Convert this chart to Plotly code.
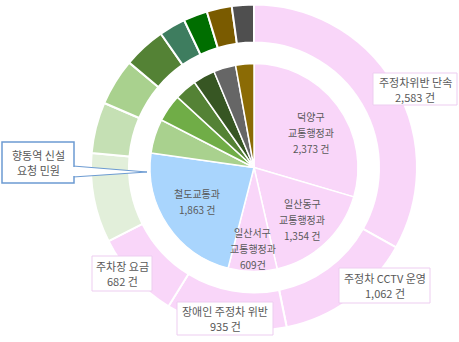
import math
import plotly.graph_objects as go

# ---- data ----
inner_labels = ["덕양구 교통행정과", "일산동구 교통행정과", "일산서구 교통행정과", "철도교통과",
                "기타1", "기타2", "기타3", "기타4", "기타5", "기타6"]
inner_values = [2373, 1354, 609, 1863, 428, 343, 278, 276, 276, 228]
inner_texts = [["덕양구", "교통행정과", "2,373 건"], ["일산동구", "교통행정과", "1,354 건"],
               ["일산서구", "교통행정과", "609건"], ["철도교통과", "1,863 건"],
               [], [], [], [], [], []]

outer_labels = ["주정차위반 단속", "주정차 CCTV 운영", "장애인 주정차 위반", "주차장 요금",
                "향동역 신설 요청 민원", "기타a", "기타b", "기타c", "기타d", "기타e", "기타f", "기타g"]
outer_values = [2583, 1062, 935, 682, 691, 395, 362, 327, 205, 185, 194, 170]
outer_texts = [["주정차위반 단속", "2,583 건"], ["주정차 CCTV 운영", "1,062 건"],
               ["장애인 주정차 위반", "935 건"], ["주차장 요금", "682 건"], ["향동역 신설", "요청 민원"]]

# ---- styles ----
PINK = "#F9D6F9"
inner_colors = [PINK, PINK, PINK, "#A9D5FD", "#A9D18E", "#70AD47", "#548235", "#375623", "#666666", "#8B6B05"]
outer_colors = [PINK, PINK, PINK, PINK, "#E2EFDA", "#C5E0B4", "#A9D18E", "#548235",
                "#3E7D5F", "#006E00", "#7A5B00", "#4F4F4F"]

W, H = 459, 342
CX, CY = 254, 167.5
R_OUT, R_HOLE, R_IN = 163, 125, 104
FONT = "Malgun Gothic, Noto Sans CJK KR, sans-serif"
TXT = "#595959"
BLUE = "#6C9BD2"

def px(x):
    return x / W

def py(y):
    return 1 - y / H

fig = go.Figure()
fig.add_trace(go.Pie(
    labels=outer_labels, values=outer_values, sort=False, direction="clockwise", rotation=0,
    hole=R_HOLE / R_OUT, textinfo="none", hoverinfo="label+value",
    marker=dict(colors=outer_colors, line=dict(color="white", width=2)),
    domain=dict(x=[px(CX - R_OUT), px(CX + R_OUT)], y=[py(CY + R_OUT), py(CY - R_OUT)]),
    showlegend=False,
))
fig.add_trace(go.Pie(
    labels=inner_labels, values=inner_values, sort=False, direction="clockwise", rotation=0,
    textinfo="none", hoverinfo="label+value",
    marker=dict(colors=inner_colors, line=dict(color="white", width=1.5)),
    domain=dict(x=[px(CX - R_IN), px(CX + R_IN)], y=[py(CY + R_IN), py(CY - R_IN)]),
    showlegend=False,
))

annotations = []
shapes = []

def add_lines(cx, cy, lines, size, spacing):
    n = len(lines)
    for k, t in enumerate(lines):
        y = cy + (k - (n - 1) / 2) * spacing
        annotations.append(dict(x=px(cx), y=py(y), xref="paper", yref="paper", text=t,
                                xanchor="center", yanchor="middle", showarrow=False,
                                font=dict(family=FONT, size=size, color=TXT)))

# inner labels placed at slice mid-angles
total = sum(inner_values)
radius_frac = [0.64, 0.68, 0.78, 0.64]
ang_shift = [5, 0, 0, 3]
cum = 0
for i, v in enumerate(inner_values):
    mid = (cum + v / 2) / total * 360
    cum += v
    if not inner_texts[i]:
        continue
    a = math.radians(mid + ang_shift[i])
    r = R_IN * radius_frac[i]
    add_lines(CX + r * math.sin(a), CY - r * math.cos(a), inner_texts[i], 10, 16)

# callout boxes for outer ring: (x0, y0, x1, y1) in pixels
boxes = [(373, 73, 457, 105), (339, 268, 430, 303), (177, 302, 273, 335),
         (92, 256, 152, 291), (2, 142, 74, 183)]

# callout pointer for the blue box (drawn below the box)
shapes.append(dict(type="path", xref="paper", yref="paper",
                   path=f"M {px(73)},{py(166)} L {px(147)},{py(172)} L {px(73)},{py(177)} Z",
                   line=dict(color=BLUE, width=1), fillcolor="white", layer="above"))
for i, lines in enumerate(outer_texts):
    x0, y0, x1, y1 = boxes[i]
    is_blue = i == 4
    shapes.append(dict(type="rect", xref="paper", yref="paper",
                       x0=px(x0), x1=px(x1), y0=py(y1), y1=py(y0),
                       line=dict(color=BLUE if is_blue else "#EDCDF0", width=1.5 if is_blue else 1),
                       fillcolor="white", layer="above"))
    add_lines((x0 + x1) / 2, (y0 + y1) / 2, lines, 11, 15)

# cover the pointer base inside the blue box
shapes.append(dict(type="rect", xref="paper", yref="paper",
                   x0=px(72), x1=px(75), y0=py(176), y1=py(167),
                   line=dict(width=0), fillcolor="white", layer="above"))

fig.update_layout(
    width=W, height=H, margin=dict(l=0, r=0, t=0, b=0),
    paper_bgcolor="white", plot_bgcolor="white",
    annotations=annotations, shapes=shapes,
)
fig.write_html("out.html")
